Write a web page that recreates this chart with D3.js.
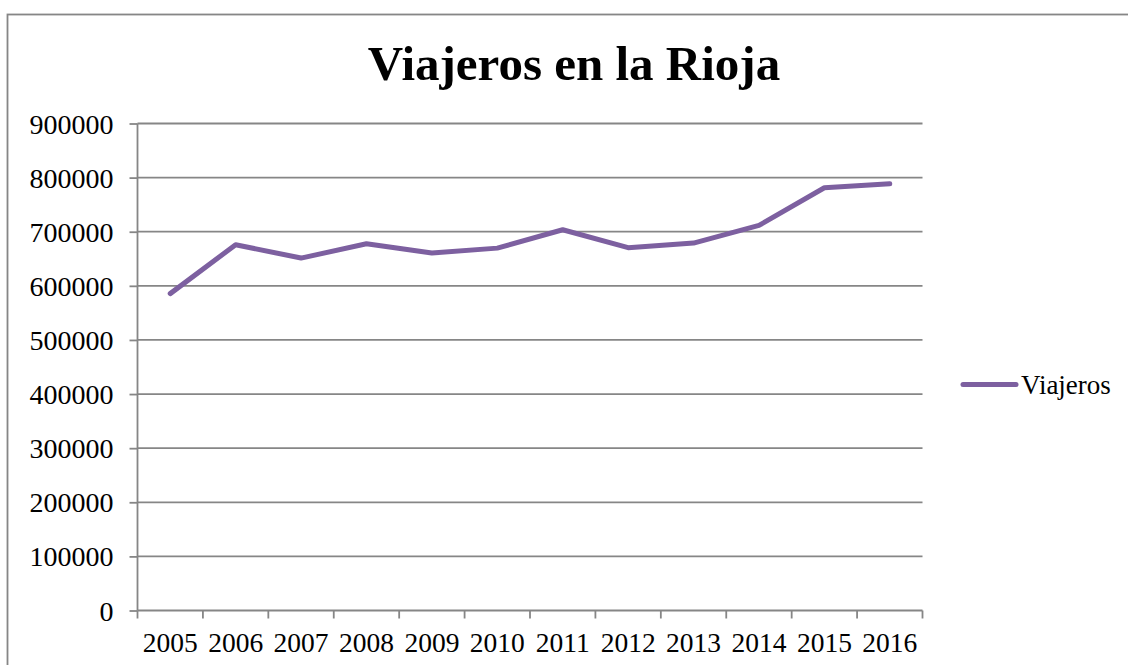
<!DOCTYPE html>
<html>
<head>
<meta charset="utf-8">
<script src="https://cdn.jsdelivr.net/npm/d3@7"></script>
<style>
  body { margin: 0; background: #fff; }
  svg { display: block; }
  text { font-family: "Liberation Serif", serif; fill: #000; }
</style>
</head>
<body>
<svg width="1128" height="665"></svg>
<script>
// datos
var years = ["2005", "2006", "2007", "2008", "2009", "2010", "2011", "2012", "2013", "2014", "2015", "2016"];
var viajeros = [585600, 676000, 651300, 677800, 660500, 669700, 703700, 670500, 679000, 711600, 781200, 788600];
var yTicks = [0, 100000, 200000, 300000, 400000, 500000, 600000, 700000, 800000, 900000];
var seriesName = "Viajeros";
var title = "Viajeros en la Rioja";

var svg = d3.select("svg"),
    plotLeft = 137.5, plotRight = 922.5, plotTop = 123.5, plotBottom = 610.5,
    lineColor = "#7d60a0",
    gridColor = "#868686";

var x = d3.scaleBand().domain(years).range([plotLeft, plotRight]),
    y = d3.scaleLinear().domain([0, 900000]).range([plotBottom, plotTop]);

// marco exterior
svg.append("rect")
    .attr("x", 7.5).attr("y", 14.5)
    .attr("width", 1130).attr("height", 670)
    .attr("fill", "none").attr("stroke", gridColor).attr("stroke-width", 1.8);

// titulo
svg.append("text")
    .attr("x", 574).attr("y", 80)
    .attr("text-anchor", "middle")
    .style("font-size", "49px").style("font-weight", "bold")
    .text(title);

// rejilla + eje y
var yAxis = svg.append("g")
    .attr("transform", "translate(" + plotLeft + ",0)")
    .call(d3.axisLeft(y).tickValues(yTicks).tickFormat(d3.format("d"))
        .tickSize(8).tickPadding(16));
yAxis.select(".domain").remove();
yAxis.selectAll(".tick line").attr("stroke", gridColor).attr("stroke-width", 1.8);
yAxis.selectAll(".tick text")
    .style("font-size", "28px").style("font-family", "Liberation Serif, serif")
    .attr("fill", "#000").attr("dy", "0.34em");

svg.append("g").selectAll("line")
    .data(yTicks)
    .enter().append("line")
    .attr("x1", plotLeft).attr("x2", plotRight)
    .attr("y1", function(d) { return y(d); })
    .attr("y2", function(d) { return y(d); })
    .attr("stroke", gridColor).attr("stroke-width", 1.8);

svg.append("line")
    .attr("x1", plotLeft).attr("x2", plotLeft)
    .attr("y1", plotTop).attr("y2", plotBottom)
    .attr("stroke", gridColor).attr("stroke-width", 1.8);

// eje x: marcas en los limites de cada banda
var bounds = years.map(function(d) { return x(d); }).concat([plotRight]);
svg.append("g").selectAll("line")
    .data(bounds)
    .enter().append("line")
    .attr("x1", function(d) { return d; }).attr("x2", function(d) { return d; })
    .attr("y1", plotBottom).attr("y2", plotBottom + 8)
    .attr("stroke", gridColor).attr("stroke-width", 1.8);

svg.append("g").selectAll("text")
    .data(years)
    .enter().append("text")
    .attr("x", function(d) { return x(d) + x.bandwidth() / 2; })
    .attr("y", 652)
    .attr("text-anchor", "middle")
    .style("font-size", "27.5px")
    .text(function(d) { return d; });

// serie
var line = d3.line()
    .x(function(d, i) { return x(years[i]) + x.bandwidth() / 2; })
    .y(function(d) { return y(d); });

svg.append("path")
    .datum(viajeros)
    .attr("d", line)
    .attr("fill", "none")
    .attr("stroke", lineColor)
    .attr("stroke-width", 5)
    .attr("stroke-linejoin", "round")
    .attr("stroke-linecap", "round");

// leyenda
svg.append("line")
    .attr("x1", 963).attr("x2", 1016)
    .attr("y1", 384.5).attr("y2", 384.5)
    .attr("stroke", lineColor).attr("stroke-width", 5)
    .attr("stroke-linecap", "round");

svg.append("text")
    .attr("x", 1021).attr("y", 394)
    .style("font-size", "27px")
    .text(seriesName);
</script>
</body>
</html>
